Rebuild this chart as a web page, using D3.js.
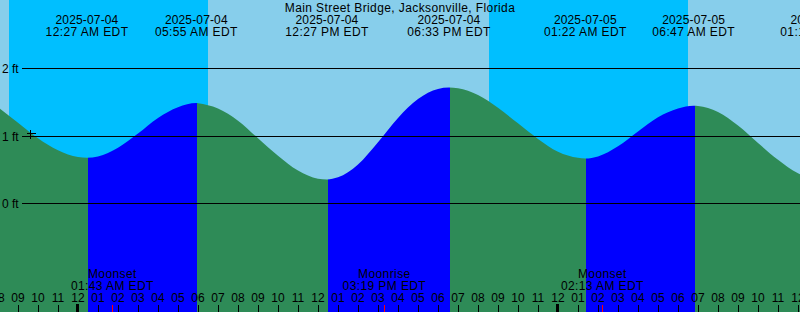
<!DOCTYPE html>
<html>
<head>
<meta charset="utf-8">
<title>Main Street Bridge tides</title>
<script src="https://d3js.org/d3.v7.min.js"></script>
<style>
  body { margin: 0; background: #fff; }
  svg { display: block; }
  text { font-family: "Liberation Sans", Arial, sans-serif; font-size: 12px; fill: #000; }
  .wide { letter-spacing: 0.4px; }
  .date { letter-spacing: 0.15px; }
</style>
</head>
<body>
<svg width="800" height="312"></svg>
<script>
// wall-clock EDT times, parsed as UTC so the browser's zone doesn't matter
var title = "Main Street Bridge, Jacksonville, Florida";
var viewStart = "2025-07-03 20:06", viewEnd = "2025-07-05 12:06";

// tide level every hour from 2025-07-03 20:00, feet
var hourStart = "2025-07-03 20:00";
var hourLevels = [1.42, 1.19, 0.96, 0.78, 0.68, 0.69, 0.82, 1.03, 1.26, 1.42,
                  1.476, 1.40, 1.22, 0.96, 0.70, 0.48, 0.36, 0.38, 0.57, 0.90,
                  1.26, 1.54, 1.69, 1.70, 1.60, 1.41, 1.18, 0.95, 0.76, 0.67,
                  0.69, 0.84, 1.06, 1.27, 1.40, 1.437, 1.35, 1.15, 0.89, 0.64,
                  0.44, 0.353];

// high / low tides
var tideTimes  = ["2025-07-04 00:27", "2025-07-04 05:55", "2025-07-04 12:27",
                  "2025-07-04 18:33", "2025-07-05 01:22", "2025-07-05 06:47", "2025-07-05 13:12"];
var tideKinds  = ["low", "high", "low", "high", "low", "high", "low"];
var tideLevels = [0.67, 1.48, 0.35, 1.71, 0.66, 1.44, 0.35];

// sun
var sunTimes = ["2025-07-03 20:33", "2025-07-04 06:30", "2025-07-04 20:33", "2025-07-05 06:30"];
var sunKinds = ["set", "rise", "set", "rise"];

// moon
var moonTimes = ["2025-07-04 01:43", "2025-07-04 15:19", "2025-07-05 02:13"];
var moonNames = ["Moonset", "Moonrise", "Moonset"];

var levelTicks = [0, 1, 2];
var markTime = "2025-07-03 21:36", markLevel = 1.03;

var dayColor = "#87ceeb", nightColor = "#00bfff", floodColor = "#0000ff", ebbColor = "#2e8b57";

var parse = d3.utcParse("%Y-%m-%d %H:%M");
var fmtDate = d3.utcFormat("%Y-%m-%d"),
    fmtTime = d3.utcFormat("%I:%M %p EDT"),
    fmtHour = d3.utcFormat("%I");

var svg = d3.select("svg"),
    W = +svg.attr("width"), H = +svg.attr("height");

var x = d3.scaleUtc().domain([parse(viewStart), parse(viewEnd)]).range([0, W]);
var y = d3.scaleLinear().domain([0, 2]).range([203, 68]);

var t0 = parse(hourStart);
var pts = hourLevels.map((v, i) => ({t: d3.utcHour.offset(t0, i), v: v}));
tideTimes.forEach((s, i) => pts.push({t: parse(s), v: tideLevels[i]}));
pts.sort((a, b) => a.t - b.t);

// background: day, then nights
svg.append("rect").attr("width", W).attr("height", H).attr("fill", dayColor);
var sun = sunTimes.map((s, i) => ({t: parse(s), k: sunKinds[i]}));
sun.forEach((d, i) => {
  if (d.k != "set") return;
  var end = i + 1 < sun.length ? sun[i + 1].t : x.domain()[1];
  svg.append("rect")
    .attr("x", Math.round(x(d.t))).attr("y", 0)
    .attr("width", Math.round(x(end)) - Math.round(x(d.t))).attr("height", H)
    .attr("fill", nightColor).attr("shape-rendering", "crispEdges");
});

// tide area, split into rising (flood) and falling (ebb)
var area = d3.area().curve(d3.curveMonotoneX)
  .x(d => x(d.t)).y0(H).y1(d => y(d.v));
svg.append("clipPath").attr("id", "tide")
  .append("path").attr("d", area(pts));

var tides = tideTimes.map((s, i) => ({t: parse(s), k: tideKinds[i]}));
var edges = [x.domain()[0]].concat(tides.map(d => d.t), [x.domain()[1]]);
var gTide = svg.append("g").attr("clip-path", "url(#tide)");
for (var i = 0; i < edges.length - 1; i++) {
  var a = Math.max(0, Math.round(x(edges[i])) + 1), b = Math.min(W, Math.round(x(edges[i + 1])) + 1);
  if (i == 0) a = 0;
  if (b <= a) continue;
  var rising = i < tides.length && tides[i].k == "high";
  gTide.append("rect").attr("x", a).attr("y", 0).attr("width", b - a).attr("height", H)
    .attr("fill", rising ? floodColor : ebbColor).attr("shape-rendering", "crispEdges");
}

// level lines
var lv = svg.append("g");
levelTicks.forEach(v => {
  var yy = Math.round(y(v)) + 0.5;
  lv.append("line").attr("x1", 22).attr("x2", W).attr("y1", yy).attr("y2", yy)
    .attr("stroke", "#000").attr("shape-rendering", "crispEdges");
  lv.append("text").attr("x", 2).attr("y", yy + 4).text(v + " ft");
});

// mark
var mx = Math.round(x(parse(markTime))) + 0.5, my = Math.round(y(markLevel)) + 0.5;
svg.append("path").attr("d", `M${mx - 4},${my}H${mx + 5}M${mx},${my - 4}V${my + 5}`)
  .attr("stroke", "#000").attr("shape-rendering", "crispEdges");

// title + tide labels
svg.append("text").attr("class", "wide").attr("x", W / 2).attr("y", 12)
  .attr("text-anchor", "middle").text(title);
tides.forEach(d => {
  var g = svg.append("g").attr("text-anchor", "middle");
  g.append("text").attr("class", "date").attr("x", x(d.t)).attr("y", 24).text(fmtDate(d.t));
  g.append("text").attr("class", "wide").attr("x", x(d.t)).attr("y", 36).text(fmtTime(d.t));
});

// moon labels
moonTimes.forEach((s, i) => {
  var t = parse(s), g = svg.append("g").attr("text-anchor", "middle");
  g.append("text").attr("class", "wide").attr("x", x(t)).attr("y", 278).text(moonNames[i]);
  g.append("text").attr("class", "wide").attr("x", x(t)).attr("y", 290).text(fmtTime(t));
});

// hour axis
var hours = d3.utcHour.range(d3.utcHour.floor(x.domain()[0]), x.domain()[1]);
var ax = svg.append("g");
hours.forEach(h => {
  var hx = Math.round(x(h));
  ax.append("text").attr("x", hx).attr("y", 302).attr("text-anchor", "middle").text(fmtHour(h));
  var midnight = h.getUTCHours() == 0;
  ax.append("rect").attr("x", midnight ? hx - 2 : hx).attr("y", midnight ? 304 : 305)
    .attr("width", midnight ? 3 : 1).attr("height", H - (midnight ? 304 : 305))
    .attr("fill", "#000").attr("shape-rendering", "crispEdges");
});
moonTimes.forEach(s => {
  ax.append("rect").attr("x", Math.round(x(parse(s)))).attr("y", 305)
    .attr("width", 1).attr("height", 7).attr("fill", "red").attr("shape-rendering", "crispEdges");
});
</script>
</body>
</html>
